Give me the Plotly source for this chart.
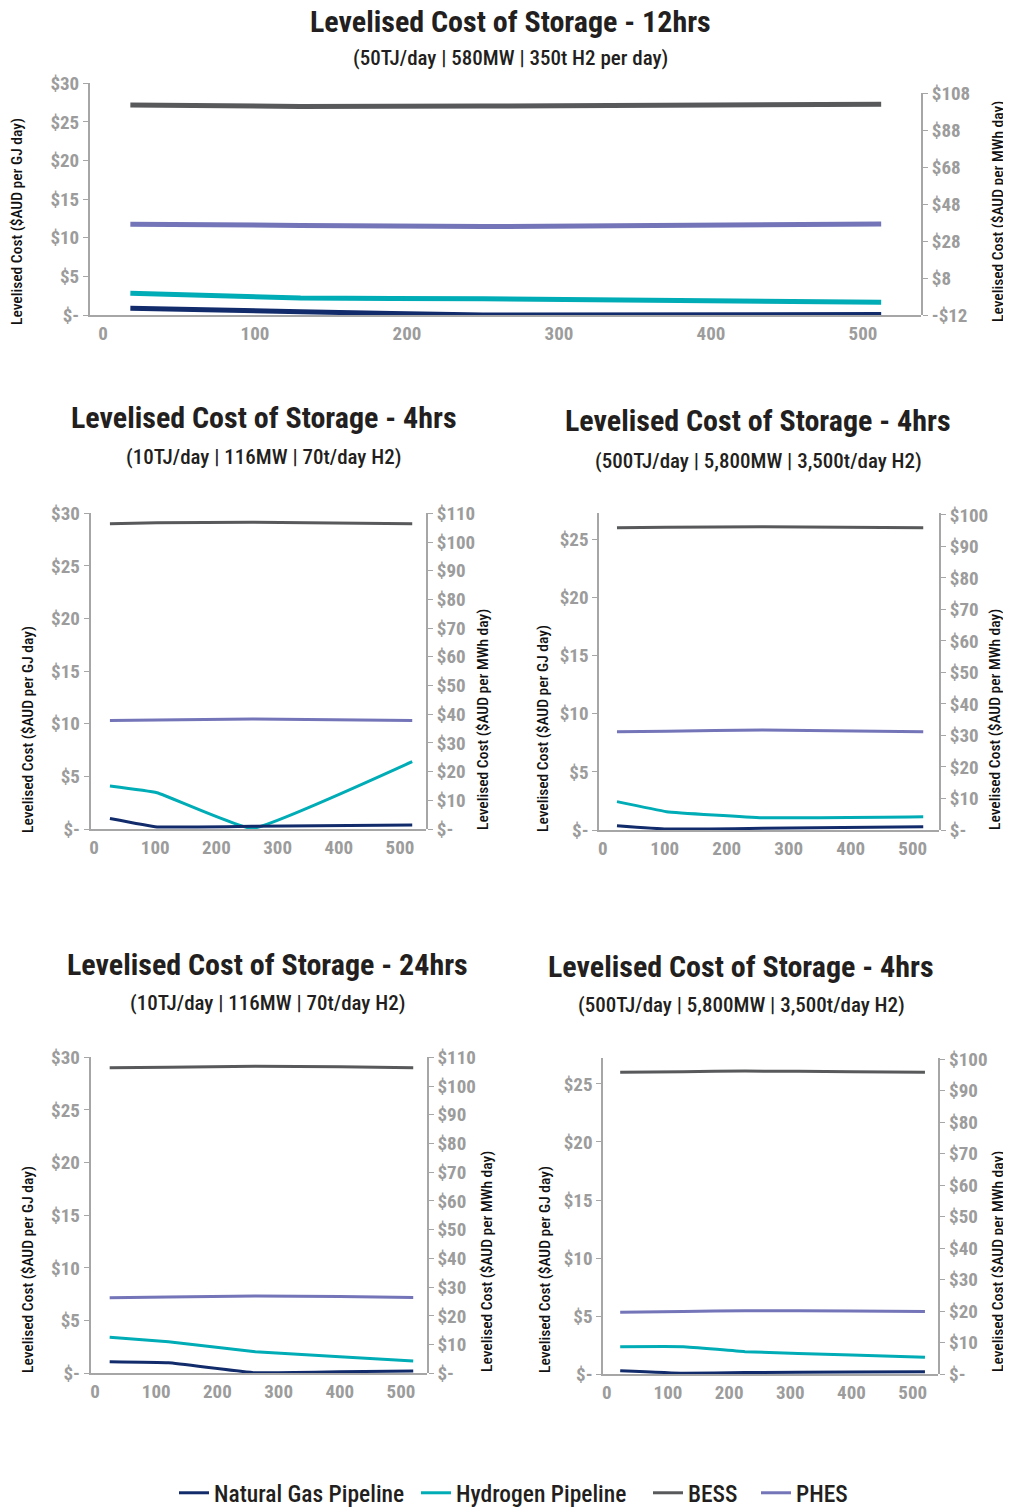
import plotly.graph_objects as go

# The page body has an 8px default margin; figure coordinates below are page pixels.
PAGE_W, PAGE_H = 1011, 1510
OFF = 8
W, H = PAGE_W - OFF, PAGE_H - OFF

# ---------------- data ----------------
series_names = ["Natural Gas Pipeline", "Hydrogen Pipeline", "BESS", "PHES"]
series_colors = ["#112b6b", "#00acb6", "#58595b", "#7474b9"]

# Chart 1: 12hrs (50TJ/day)
x_12h = [18, 130, 250, 512]
ng_12h = [0.87, 0.42, 0.0, 0.05]
h2_12h = [2.81, 2.20, 2.10, 1.64]
bess_12h = [27.2, 27.0, 27.05, 27.3]
phes_12h = [11.75, 11.6, 11.45, 11.79]

# Chart 2: 4hrs (10TJ/day)
x_4h_small = [26, 103, 258, 520]
ng_4h_small = [1.0, 0.2, 0.25, 0.38]
h2_4h_small = [4.09, 3.45, 0.05, 6.4]
bess_4h_small = [29.0, 29.1, 29.15, 29.0]
phes_4h_small = [10.3, 10.35, 10.45, 10.3]

# Chart 3: 4hrs (500TJ/day)
x_4h_large = [23, 103, 258, 517]
ng_4h_large = [0.37, 0.08, 0.15, 0.29]
h2_4h_large = [2.44, 1.58, 1.06, 1.15]
bess_4h_large = [26.0, 26.05, 26.1, 26.0]
phes_4h_large = [8.46, 8.5, 8.6, 8.46]

# Chart 4: 24hrs (10TJ/day)
x_24h = [24, 120, 262, 400, 520]
ng_24h = [1.10, 1.0, 0.06, 0.15, 0.22]
h2_24h = [3.42, 3.0, 2.05, 1.58, 1.17]
bess_24h = [29.0, 29.05, 29.15, 29.1, 29.0]
phes_24h = [7.18, 7.25, 7.34, 7.3, 7.2]

# Chart 5: 4hrs (500TJ/day), second panel
x_4h_b = [22, 125, 226, 400, 520]
ng_4h_b = [0.31, 0.09, 0.15, 0.2, 0.22]
h2_4h_b = [2.38, 2.38, 1.95, 1.66, 1.46]
bess_4h_b = [26.0, 26.05, 26.1, 26.05, 26.0]
phes_4h_b = [5.34, 5.4, 5.48, 5.45, 5.4]

titles = [
    "Levelised Cost of Storage - 12hrs",
    "Levelised Cost of Storage - 4hrs",
    "Levelised Cost of Storage - 4hrs",
    "Levelised Cost of Storage - 24hrs",
    "Levelised Cost of Storage - 4hrs",
]
subtitles = [
    "(50TJ/day | 580MW | 350t H2 per day)",
    "(10TJ/day | 116MW | 70t/day H2)",
    "(500TJ/day | 5,800MW | 3,500t/day H2)",
    "(10TJ/day | 116MW | 70t/day H2)",
    "(500TJ/day | 5,800MW | 3,500t/day H2)",
]
left_title = "Levelised Cost ($AUD per GJ day)"
right_title = "Levelised Cost ($AUD per MWh day)"

x_ticks = [0, 100, 200, 300, 400, 500]
x_tick_text = ["0", "100", "200", "300", "400", "500"]

gj_ticks_30 = [0, 5, 10, 15, 20, 25, 30]
gj_text_30 = ["$-", "$5", "$10", "$15", "$20", "$25", "$30"]
gj_ticks_25 = [0, 5, 10, 15, 20, 25]
gj_text_25 = ["$-", "$5", "$10", "$15", "$20", "$25"]
mwh_ticks_12h = [-12, 8, 28, 48, 68, 88, 108]
mwh_text_12h = ["-$12", "$8", "$28", "$48", "$68", "$88", "$108"]
mwh_ticks_110 = [0, 10, 20, 30, 40, 50, 60, 70, 80, 90, 100, 110]
mwh_text_110 = ["$-"] + ["$%d" % v for v in mwh_ticks_110[1:]]
mwh_ticks_100 = [0, 10, 20, 30, 40, 50, 60, 70, 80, 90, 100]
mwh_text_100 = ["$-"] + ["$%d" % v for v in mwh_ticks_100[1:]]

charts_data = [
    (x_12h, [ng_12h, h2_12h, bess_12h, phes_12h]),
    (x_4h_small, [ng_4h_small, h2_4h_small, bess_4h_small, phes_4h_small]),
    (x_4h_large, [ng_4h_large, h2_4h_large, bess_4h_large, phes_4h_large]),
    (x_24h, [ng_24h, h2_24h, bess_24h, phes_24h]),
    (x_4h_b, [ng_4h_b, h2_4h_b, bess_4h_b, phes_4h_b]),
]

# ---------------- layout geometry (page pixels) ----------------
geom = [
    dict(xdom=(90, 921), xr=(-8.55, 538.2), ydom=(83.3, 315), yr=(0, 30),
         y2dom=(93, 315), y2r=(-12, 108), lt=(gj_ticks_30, gj_text_30), rt=(mwh_ticks_12h, mwh_text_12h),
         lw=5, title=(510, 22), sub=(510, 58), ltitle=(17, 222), rtitle=(998, 212)),
    dict(xdom=(90.7, 426), xr=(-5.4, 542.5), ydom=(513.3, 829), yr=(0, 30),
         y2dom=(513.3, 829), y2r=(0, 110), lt=(gj_ticks_30, gj_text_30), rt=(mwh_ticks_110, mwh_text_110),
         lw=3, title=(264, 417), sub=(264, 457), ltitle=(28, 730), rtitle=(483, 720)),
    dict(xdom=(599.3, 939), xr=(-5.5, 542.4), ydom=(513, 830), yr=(0, 27.28),
         y2dom=(513, 830), y2r=(0, 100.6), lt=(gj_ticks_25, gj_text_25), rt=(mwh_ticks_100, mwh_text_100),
         lw=3, title=(758, 421), sub=(758, 461), ltitle=(543, 729), rtitle=(995, 720)),
    dict(xdom=(90.7, 426.7), xr=(-7.0, 542), ydom=(1057.3, 1373.3), yr=(0, 30),
         y2dom=(1057.3, 1373.3), y2r=(0, 110), lt=(gj_ticks_30, gj_text_30), rt=(mwh_ticks_110, mwh_text_110),
         lw=3, title=(267, 965), sub=(267, 1003), ltitle=(28, 1270), rtitle=(487, 1262)),
    dict(xdom=(603.3, 938.3), xr=(-5.6, 541.8), ydom=(1058.3, 1374.3), yr=(0, 27.2),
         y2dom=(1058.3, 1374.3), y2r=(0, 100.3), lt=(gj_ticks_25, gj_text_25), rt=(mwh_ticks_100, mwh_text_100),
         lw=3, title=(741, 966), sub=(741, 1005), ltitle=(545, 1270), rtitle=(998, 1262)),
]
# left edge (page px) of each legend entry's line sample
legend_x = [181, 423, 655, 763]
legend_bottom = 1515


def fx(px):
    return (px - OFF) / W


def fy(py):
    return 1 - (py - OFF) / H


FONT = "Roboto Condensed, Liberation Sans Narrow, Roboto, Arial"
AXIS_COLOR = "#a6a6a6"
TICK_FONT = dict(family=FONT, size=19, color="#9c9c9c", weight="bold")

fig = go.Figure()
layout = dict(
    width=W, height=H, margin=dict(l=0, r=0, t=0, b=0, autoexpand=False),
    paper_bgcolor="white", plot_bgcolor="rgba(0,0,0,0)", annotations=[],
    template="none",
)

for k, (g, (xs, ys)) in enumerate(zip(geom, charts_data)):
    xi = k + 1
    yl = 2 * k + 1
    yr_ = 2 * k + 2
    xname = "x" if xi == 1 else "x%d" % xi
    ylname = "y" if yl == 1 else "y%d" % yl
    yrname = "y%d" % yr_
    xkey = "xaxis" if xi == 1 else "xaxis%d" % xi
    ylkey = "yaxis" if yl == 1 else "yaxis%d" % yl
    yrkey = "yaxis%d" % yr_

    order = [2, 3, 1, 0]
    for si in order:
        fig.add_trace(go.Scatter(
            x=xs, y=ys[si], mode="lines", name=series_names[si],
            line=dict(color=series_colors[si], width=g["lw"], shape="spline", smoothing=0.3),
            xaxis=xname, yaxis=ylname, showlegend=False, hoverinfo="skip", cliponaxis=False,
        ))
    # right axis reference trace (no visible points)
    fig.add_trace(go.Scatter(x=[None], y=[None], xaxis=xname, yaxis=yrname,
                             showlegend=False, hoverinfo="skip", mode="lines"))

    layout[xkey] = dict(
        domain=[fx(g["xdom"][0]), fx(g["xdom"][1])], range=list(g["xr"]),
        anchor=ylname, showgrid=False, zeroline=False, showline=True, automargin=False,
        linecolor=AXIS_COLOR, linewidth=2, ticks="",
        tickvals=x_ticks, ticktext=x_tick_text, tickfont=TICK_FONT, fixedrange=True,
    )
    layout[ylkey] = dict(
        domain=[fy(g["ydom"][1]), fy(g["ydom"][0])], range=list(g["yr"]),
        anchor=xname, showgrid=False, zeroline=False, showline=True, automargin=False,
        linecolor=AXIS_COLOR, linewidth=2, ticks="outside", ticklen=5, tickcolor=AXIS_COLOR,
        tickvals=g["lt"][0], ticktext=g["lt"][1], tickfont=TICK_FONT, fixedrange=True,
    )
    layout[yrkey] = dict(
        domain=[fy(g["y2dom"][1]), fy(g["y2dom"][0])], range=list(g["y2r"]),
        anchor=xname, side="right", showgrid=False, zeroline=False, showline=True, automargin=False,
        linecolor=AXIS_COLOR, linewidth=2, ticks="outside", ticklen=5, tickcolor=AXIS_COLOR,
        tickvals=g["rt"][0], ticktext=g["rt"][1], tickfont=TICK_FONT, fixedrange=True,
    )

    layout["annotations"] += [
        dict(text="<b>%s</b>" % titles[k], x=fx(g["title"][0]), y=fy(g["title"][1]),
             xref="paper", yref="paper", xanchor="center", yanchor="middle", showarrow=False,
             font=dict(family=FONT, size=30, color="#231f20")),
        dict(text=subtitles[k], x=fx(g["sub"][0]), y=fy(g["sub"][1]),
             xref="paper", yref="paper", xanchor="center", yanchor="middle", showarrow=False,
             font=dict(family=FONT, size=21, color="#231f20", weight=500)),
        dict(text=left_title, x=fx(g["ltitle"][0]), y=fy(g["ltitle"][1]), textangle=-90,
             xref="paper", yref="paper", xanchor="center", yanchor="middle", showarrow=False,
             font=dict(family=FONT, size=15.5, color="#111111", weight=500)),
        dict(text=right_title, x=fx(g["rtitle"][0]), y=fy(g["rtitle"][1]), textangle=-90,
             xref="paper", yref="paper", xanchor="center", yanchor="middle", showarrow=False,
             font=dict(family=FONT, size=15.5, color="#111111", weight=500)),
    ]

# legend entries: one legend per series so each can sit where the reference puts it
for si in range(4):
    lname = "legend" if si == 0 else "legend%d" % (si + 1)
    fig.add_trace(go.Scatter(
        x=[None], y=[None], mode="lines", name=series_names[si],
        line=dict(color=series_colors[si], width=3), showlegend=True, hoverinfo="skip",
        legend=lname,
    ))
    layout[lname] = dict(
        orientation="h", x=fx(legend_x[si] - 7), y=fy(legend_bottom), xanchor="left", yanchor="bottom",
        font=dict(family=FONT, size=23.5, color="#231f20", weight=500),
        itemwidth=30, bgcolor="rgba(0,0,0,0)",
    )
layout["showlegend"] = True

fig.update_layout(**layout)
fig.write_html("out.html")
